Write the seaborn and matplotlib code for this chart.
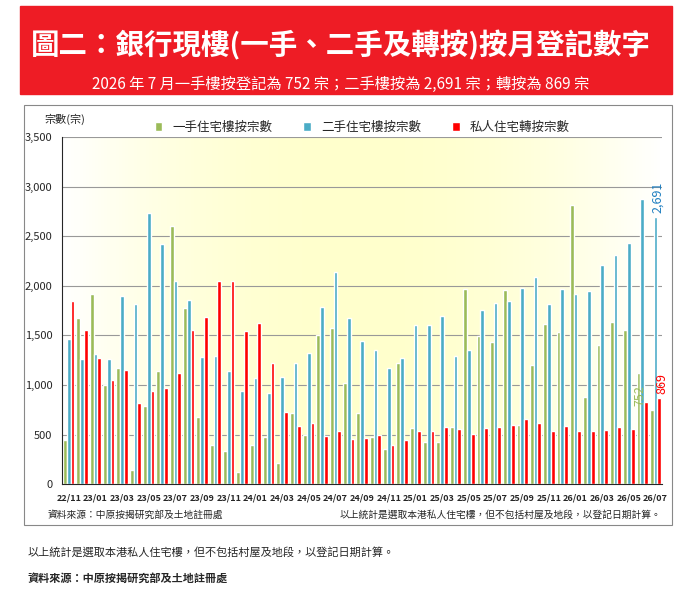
import numpy as np
import pandas as pd
import matplotlib
matplotlib.use("Agg")
import matplotlib.pyplot as plt
import seaborn as sns
from matplotlib.patches import Rectangle

sns.set_style("white")
plt.rcParams['font.family'] = ['Noto Sans CJK TC', 'DejaVu Sans']

months = ["22/11", "22/12"]
for yr in ["23", "24", "25"]:
    months += [yr + "/%02d" % m for m in range(1, 13)]
months += ["26/%02d" % m for m in range(1, 8)]

green = [450, 1680, 1920, 1000, 1170, 140, 790, 1140, 2600, 1780, 680, 390, 330, 120,
         390, 480, 210, 720, 500, 1500, 1570, 1020, 720, 480, 350, 1220,
         570, 430, 420, 580, 1970, 1490, 1430, 1960, 600, 1200, 1610, 1530,
         2810, 880, 1400, 1630, 1550, 1120, 752]
blue = [1460, 1260, 1310, 1260, 1900, 1820, 2730, 2420, 2050, 1860, 1280, 1290, 1140, 940,
        1070, 920, 1080, 1220, 1320, 1790, 2140, 1680, 1440, 1350, 1170, 1270,
        1600, 1600, 1700, 1290, 1350, 1760, 1830, 1850, 1980, 2090, 1820, 1970,
        1920, 1950, 2210, 2310, 2430, 2880, 2691]
red = [1850, 1550, 1270, 1050, 1150, 820, 940, 970, 1120, 1550, 1690, 2050, 2050, 1540,
       1620, 1220, 730, 590, 620, 490, 540, 460, 470, 500, 390, 450,
       540, 540, 580, 560, 510, 570, 580, 600, 660, 620, 540, 590,
       540, 540, 550, 580, 560, 830, 869]

names = ["一手住宅樓按宗數", "二手住宅樓按宗數", "私人住宅轉按宗數"]
cols = ["#9bbb59", "#4bacc6", "#ff0000"]
df = pd.DataFrame({"month": months * 3,
                   "n": green + blue + red,
                   "kind": [names[0]] * 45 + [names[1]] * 45 + [names[2]] * 45})

fig = plt.figure(figsize=(6.82, 6.09), dpi=100)

# banner
fig.patches.append(Rectangle((0.03, 0.845), 0.955, 0.145, transform=fig.transFigure,
                             color="#ee1c25", zorder=0))
fig.text(0.5, 0.925, "圖二：銀行現樓(一手、二手及轉按)按月登記數字", color="white",
         fontsize=20.5, fontweight="bold", ha="center", va="center")
fig.text(0.5, 0.862, "2026 年 7 月一手樓按登記為 752 宗；二手樓按為 2,691 宗；轉按為 869 宗",
         color="white", fontsize=11, ha="center", va="center")
fig.patches.append(Rectangle((0.035, 0.138), 0.95, 0.69, transform=fig.transFigure,
                             fill=False, ec="#888888", lw=0.8))

ax = fig.add_axes([0.091, 0.205, 0.88, 0.57])
grad = np.abs(np.linspace(-1, 1, 200))
img = np.ones((2, 200, 3))
img[:, :, 2] = 0.8 + 0.2 * grad ** 2
ax.imshow(img, extent=[-0.5, 44.5, 0, 3500], aspect="auto", zorder=0)

sns.barplot(data=df, x="month", y="n", hue="kind", palette=cols, ax=ax,
            width=0.85, saturation=1, zorder=2)
ax.set_xlim(-0.5, 44.5)
ax.set_ylim(0, 3500)
ax.set_yticks(range(0, 3501, 500))
ax.set_yticklabels(["{:,}".format(v) for v in range(0, 3501, 500)], fontsize=8)
ax.yaxis.grid(True, color="#999999", lw=0.8, zorder=1)
ax.set_axisbelow(True)
ax.set_xticks(range(0, 45, 2))
ax.set_xticklabels(months[::2], fontsize=6.5, fontweight="bold")
ax.set_xlabel("")
ax.set_ylabel("")
for s in ["top", "right"]:
    ax.spines[s].set_visible(False)
ax.text(-0.03, 1.04, "宗數(宗)", transform=ax.transAxes, fontsize=8, ha="left")
ax.legend(loc="upper center", bbox_to_anchor=(0.5, 1.08), ncol=3, frameon=False,
          fontsize=9, handlelength=0.6, columnspacing=2.5)

ax.text(42.85, 752 + 40, "752", color="#9bbb59", rotation=90, fontsize=9, ha="center", va="bottom")
ax.text(44.15, 2691 + 40, "2,691", color="#1f7fc0", rotation=90, fontsize=9, ha="center", va="bottom")
ax.text(44.5, 869 + 40, "869", color="#ff0000", rotation=90, fontsize=9, ha="center", va="bottom",
        clip_on=False)

fig.text(0.07, 0.155, "資料來源：中原按揭研究部及土地註冊處", fontsize=7, va="center")
fig.text(0.97, 0.155, "以上統計是選取本港私人住宅樓，但不包括村屋及地段，以登記日期計算。",
         fontsize=7, va="center", ha="right")
fig.text(0.04, 0.088, "以上統計是選取本港私人住宅樓，但不包括村屋及地段，以登記日期計算。", fontsize=8)
fig.text(0.04, 0.045, "資料來源：中原按揭研究部及土地註冊處", fontsize=8, fontweight="bold")

fig.savefig("out.png", dpi=100)
